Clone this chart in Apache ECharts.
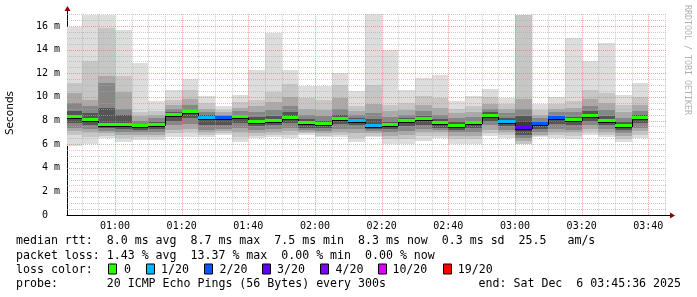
<!DOCTYPE html>
<html><head><meta charset="utf-8">
<script src="https://cdn.jsdelivr.net/npm/echarts@6/dist/echarts.min.js"></script>
<style>html,body{margin:0;padding:0;background:#fff}#c{width:697px;height:297px}</style>
</head><body><div id="c"></div>
<script>
// ---- data ----
const xTickLabels = ['01:00','01:20','01:40','02:00','02:20','02:40','03:00','03:20','03:40'];
const yTickValues = [0,2,4,6,8,10,12,14,16];
const barEnds = ['00:50','00:55','01:00','01:05','01:10','01:15','01:20','01:25','01:30','01:35','01:40','01:45','01:50','01:55','02:00','02:05','02:10','02:15','02:20','02:25','02:30','02:35','02:40','02:45','02:50','02:55','03:00','03:05','03:10','03:15','03:20','03:25','03:30','03:35','03:40'];
const medianMs = [8.3,8.05,7.6,7.6,7.5,7.6,8.45,8.7,8.25,8.2,8.3,7.9,8.0,8.25,7.8,7.7,8.1,8.0,7.55,7.6,7.95,8.1,7.75,7.55,7.75,8.4,7.85,7.4,7.7,8.2,8.05,8.4,8.0,7.55,8.25];
const maxMs = [15.9,16.9,16.9,15.7,12.9,9.65,10.6,11.5,10.1,9.2,10.2,12.3,15.4,12.3,10.9,10.9,12.05,10.5,17.0,14.0,10.6,11.6,11.85,9.65,10.1,10.7,9.9,16.9,9.4,9.95,15.0,13.0,14.6,10.15,11.15];
const hi1Ms = [11.2,13.0,15.8,11.8,8.75,8.8,9.7,10.6,9.5,8.9,9.6,9.7,10.4,11.1,9.9,9.7,11.0,9.2,11.0,9.3,9.5,10.1,9.9,9.0,9.2,10.0,9.4,9.85,8.9,9.4,9.65,10.6,10.3,9.3,10.0];
const hi2Ms = [10.3,9.7,11.8,10.4,8.4,8.5,9.3,9.8,9.0,8.7,9.1,9.2,9.6,10.0,9.0,8.9,9.9,8.8,9.4,8.8,8.9,9.3,9.1,8.6,8.7,9.4,9.0,9.0,8.5,9.0,9.1,9.8,9.5,8.7,9.3];
const hi3Ms = [9.5,9.2,11.2,9.0,8.0,8.2,9.0,9.3,8.7,8.5,8.8,8.7,8.9,9.2,8.5,8.4,9.0,8.5,8.6,8.3,8.5,8.8,8.5,8.2,8.3,9.0,8.6,8.4,8.2,8.7,8.7,9.2,8.9,8.2,8.8];
const hi4Ms = [8.8,8.6,9.1,8.5,7.7,7.9,8.7,8.9,8.45,8.35,8.5,8.3,8.4,8.7,8.1,8.0,8.5,8.2,8.1,7.9,8.2,8.4,8.1,7.9,8.0,8.7,8.2,7.9,7.9,8.4,8.3,8.8,8.4,7.9,8.5];
const lo4Ms = [7.8,7.6,7.4,7.3,7.2,7.3,8.0,8.2,7.6,7.6,7.8,7.5,7.6,7.8,7.4,7.4,7.7,7.6,7.3,7.3,7.5,7.6,7.4,7.2,7.4,8.0,7.5,7.1,7.3,7.7,7.6,8.0,7.6,7.2,7.8];
const lo3Ms = [7.4,7.3,7.1,7.0,7.0,7.0,7.6,7.7,7.2,7.3,7.4,7.2,7.3,7.4,7.2,7.1,7.3,7.3,7.1,7.0,7.1,7.3,7.2,7.0,7.0,7.6,7.2,6.8,7.0,7.3,7.2,7.6,7.3,6.9,7.4];
const lo2Ms = [7.1,7.0,6.9,6.8,6.8,6.8,7.2,7.3,7.0,7.1,7.0,6.9,7.0,7.1,7.0,6.9,7.0,6.9,6.9,6.7,6.8,7.0,7.0,6.7,6.7,7.2,7.0,6.5,6.8,7.0,7.0,7.3,7.0,6.7,7.1];
const lo1Ms = [6.8,6.6,6.7,6.5,6.6,6.6,6.9,7.0,6.8,6.9,6.6,6.7,6.8,6.8,6.9,6.7,6.8,6.5,6.7,6.4,6.4,6.7,6.7,6.4,6.4,6.9,6.8,6.3,6.7,6.8,6.7,7.0,6.8,6.4,6.8];
const minMs = [5.8,6.0,6.5,6.2,6.35,6.35,6.6,6.6,6.6,6.8,6.2,6.5,6.6,6.5,6.8,6.6,6.6,6.2,6.6,6.05,6.05,6.3,6.5,6.05,6.05,6.7,6.55,6.0,6.6,6.5,6.4,6.8,6.6,6.2,6.5];
const lossCount = [0,0,0,0,0,0,0,0,1,2,0,0,0,0,0,0,0,1,1,0,0,0,0,0,0,0,1,3,2,2,0,0,0,0,0];
const lossLegend = ['0','1/20','2/20','3/20','4/20','10/20','19/20'];
const lossThresh = [0,1,2,3,4,10,19];
const lossColors = ['#26ff00','#00b8ff','#0059ff','#5e00ff','#7e00ff','#dd00ff','#ff0000'];
const startTime = '00:45:36', endTime = '03:45:36';

// ---- helpers ----
function sec(s){const p=s.split(':').map(Number);return p[0]*3600+p[1]*60+(p[2]||0);}
const startSec = sec(startTime), endSec = sec(endTime);
const xTickValues = xTickLabels.map(sec);
const labelMap = {}; xTickLabels.forEach(l=>labelMap[sec(l)]=l);
function lossColor(n){let c=lossColors[0];for(let i=0;i<lossThresh.length;i++){if(n>=lossThresh[i])c=lossColors[i];}return c;}
const MONO = '"DejaVu Sans Mono", monospace';
const smokeColors = ['#dddddd','#c6c6c6','#a9a9a9','#878787','#555555','#3a3a3a'];

const vGrid = []; for(let t=sec('00:50');t<=endSec;t+=300) vGrid.push([t, (t%1200===0)?1:0]);
const hGrid = []; for(let v=0.5;v<=17.001;v+=0.5) hGrid.push([v, (Math.abs(v%2)<1e-6)?1:0]);

const barData = barEnds.map((b,i)=>[sec(b), maxMs[i], i]);

function smokeItem(params, api){
  const i = api.value(2);
  const tEnd = sec(barEnds[i]); const tStart = Math.max(tEnd-300, startSec);
  const lv = [[minMs[i],maxMs[i]],[lo1Ms[i],hi1Ms[i]],[lo2Ms[i],hi2Ms[i]],[lo3Ms[i],hi3Ms[i]],[lo4Ms[i],hi4Ms[i]]];
  const shift = lossCount[i]>=3?1:0;
  const children = [];
  lv.forEach((pair,k)=>{
    const a = api.coord([tStart, pair[1]]), b = api.coord([tEnd, pair[0]]);
    const x0=Math.round(a[0]), x1=Math.round(b[0]), y0=Math.round(a[1]), y1=Math.round(b[1]);
    children.push({type:'rect', shape:{x:x0,y:y0,width:x1-x0,height:y1-y0}, style:{fill:smokeColors[Math.min(k+shift,5)]}});
  });
  return {type:'group', children};
}
function medianItem(params, api){
  const i = api.value(2);
  const tEnd = sec(barEnds[i]); const tStart = Math.max(tEnd-300, startSec);
  const a = api.coord([tStart, medianMs[i]]), b = api.coord([tEnd, medianMs[i]]);
  const x0=Math.round(a[0]), x1=Math.round(b[0]), y=Math.round(a[1]);
  const children = [];
  if(i>0){
    const p = Math.round(api.coord([tStart, medianMs[i-1]])[1]);
    children.push({type:'line', shape:{x1:x0+0.5,y1:p+1,x2:x0+0.5,y2:y+1}, style:{stroke:'#000',lineWidth:1}});
  }
  children.push({type:'rect', shape:{x:x0,y:y+1,width:x1-x0,height:1}, style:{fill:'#000'}});
  children.push({type:'rect', shape:{x:x0,y:y-2,width:x1-x0,height:3}, style:{fill:lossColor(lossCount[i])}});
  return {type:'group', children};
}
function vGridItem(params, api){
  const cs = params.coordSys; const x = Math.round(api.coord([api.value(0),0])[0])+0.5;
  const major = api.value(1)===1;
  return {type:'line', shape:{x1:x,y1:cs.y,x2:x,y2:cs.y+cs.height}, style:{stroke: major?'rgba(255,95,95,0.6)':'rgba(170,170,170,0.6)', lineWidth:1, lineDash:[1,1]}};
}
function hGridItem(params, api){
  const cs = params.coordSys; const y = Math.round(api.coord([startSec, api.value(0)])[1])+0.5;
  const major = api.value(1)===1;
  return {type:'line', shape:{x1:cs.x,y1:y,x2:cs.x+cs.width,y2:y}, style:{stroke: major?'rgba(255,95,95,0.6)':'rgba(170,170,170,0.6)', lineWidth:1, lineDash:[1,1]}};
}

const chart = echarts.init(document.getElementById('c'), null, {renderer:'canvas', width:697, height:297});
const option = {
  animation:false,
  backgroundColor:'#ffffff',
  grid:{left:67, right:30, top:14.2, bottom:82},
  xAxis:{type:'value', min:startSec, max:endSec, splitLine:{show:false},
    axisLine:{show:true, lineStyle:{color:'#000', width:1}},
    axisTick:{show:false},
    axisLabel:{customValues:xTickValues, formatter:v=>labelMap[v]||'', fontFamily:MONO, fontSize:10, color:'#000', margin:6}},
  yAxis:{type:'value', min:0, max:17, splitLine:{show:false},
    axisLine:{show:true, lineStyle:{color:'#000', width:1}},
    axisTick:{show:false},
    axisLabel:{customValues:yTickValues, formatter:v=>v===0?'0  ':(v+' m'), fontFamily:MONO, fontSize:10, color:'#000', margin:7}},
  series:[
    {type:'custom', name:'smoke', data:barData, encode:{x:0,y:1}, renderItem:smokeItem, z:2, clip:true, silent:true},
    {type:'custom', name:'vgrid', data:vGrid, encode:{x:0}, renderItem:vGridItem, z:3, silent:true},
    {type:'custom', name:'hgrid', data:hGrid, encode:{y:0}, renderItem:hGridItem, z:3, silent:true},
    {type:'custom', name:'median', data:barData, encode:{x:0,y:1}, renderItem:medianItem, z:4, clip:true, silent:true}
  ]
};
chart.setOption(option);

// decorations: arrows, titles, legend text
const o = chart.convertToPixel({gridIndex:0}, [startSec, 0]);
const e = chart.convertToPixel({gridIndex:0}, [endSec, 17]);
const gx0 = Math.round(o[0])+0.5, gy0 = Math.round(o[1])+0.5, gx1 = Math.round(e[0]), gy1 = Math.round(e[1]);
const rows = [241, 255.5, 269.5, 283.5];
function txt(x,y,s,extra){return Object.assign({type:'text', x, y, silent:true, style:Object.assign({text:s, font:'11.6px '+MONO, fill:'#000', textVerticalAlign:'middle', textAlign:'left'}, extra||{})});}
const legendBoxX = [108,146,204,262,320,378,443];
const legendTextX = [124,161,219.6,277,335.5,392.4,457.8];
const graphics = [
  {type:'line', silent:true, shape:{x1:gx0,y1:gy1,x2:gx0,y2:gy1-4}, style:{stroke:'#000',lineWidth:1}},
  {type:'polygon', silent:true, shape:{points:[[gx0-3,gy1-3],[gx0+3,gy1-3],[gx0,gy1-8]]}, style:{fill:'#8b0000'}},
  {type:'line', silent:true, shape:{x1:gx1,y1:gy0,x2:gx1+4,y2:gy0}, style:{stroke:'#000',lineWidth:1}},
  {type:'polygon', silent:true, shape:{points:[[gx1+3,gy0-3],[gx1+3,gy0+3],[gx1+8,gy0]]}, style:{fill:'#8b0000'}},
  {type:'text', x:10.5, y:113, rotation:Math.PI/2, silent:true, style:{text:'Seconds', font:'10.5px "DejaVu Sans", sans-serif', fill:'#000', textAlign:'center', textVerticalAlign:'middle'}},
  {type:'text', x:687, y:5, rotation:-Math.PI/2, silent:true, style:{text:'RRDTOOL / TOBI OETIKER', font:'8.3px '+MONO, fill:'#b0b0b0', textAlign:'left', textVerticalAlign:'middle'}},
  txt(16, rows[0], 'median rtt:  8.0 ms avg  8.7 ms max  7.5 ms min  8.3 ms now  0.3 ms sd  25.5   am/s'),
  txt(16, rows[1], 'packet loss: 1.43 % avg  13.37 % max  0.00 % min  0.00 % now'),
  txt(16, rows[2], 'loss color:'),
  txt(16, rows[3], 'probe:       20 ICMP Echo Pings (56 Bytes) every 300s'),
  txt(681, rows[3], 'end: Sat Dec  6 03:45:36 2025', {textAlign:'right'})
];
lossLegend.forEach((l,k)=>{
  graphics.push({type:'rect', silent:true, shape:{x:legendBoxX[k]+0.5,y:rows[2]-5.5,width:8,height:10}, style:{fill:lossColors[k], stroke:'#000', lineWidth:1}});
  graphics.push(txt(legendTextX[k], rows[2], l));
});
chart.setOption({graphic:graphics});
</script>
</body></html>
